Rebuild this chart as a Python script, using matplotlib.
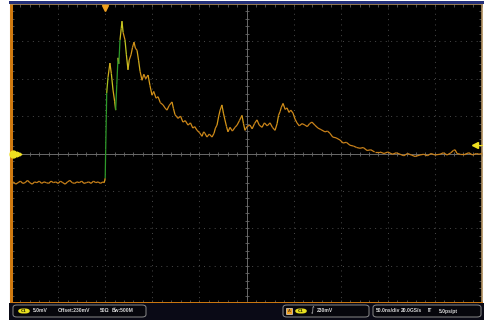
import matplotlib
matplotlib.use("Agg")
import matplotlib.pyplot as plt
import numpy as np
from matplotlib.collections import LineCollection
from matplotlib.colors import LinearSegmentedColormap
from matplotlib.patches import FancyBboxPatch, Rectangle
from matplotlib.transforms import blended_transform_factory

# Channel 1 capture, 50 ns/div, 5 mV/div
TIME_NS = [
    -100, -97.5, -95, -92.5, -90, -87.5, -85, -82.5, -80, -77.5,
    -75, -72.5, -70, -67.5, -65, -62.5, -60, -57.5, -55, -52.5,
    -50, -47.5, -45, -42.5, -40, -37.5, -35, -32.5, -30, -27.5,
    -25, -22.5, -20, -17.5, -15, -12.5, -10, -7.5, -5, -2.5, -1,
    0, 0.5, 1.2, 1.6, 3, 5, 6.5, 8.3, 10, 11.1, 12.3, 13.6, 14.5, 15.7,
    17, 17.8, 19, 21, 22.5, 24.2, 25.5, 27.4, 29, 30.6, 32, 33.8, 35.5,
    37, 39.1, 41, 43, 45.5, 47.5, 49.7, 51.5, 54, 56.1, 58.5, 61.4, 63.5,
    65.6, 67.8, 70.9, 72.5, 74.1, 76, 77.3, 80, 82.5, 85, 87.9, 90.5, 93,
    95, 97.5, 100, 102.8, 104.5, 105.9, 108, 110.5, 113.4, 115.5, 117,
    118.7, 120.5, 122, 123.9, 125.5, 127.1, 128.8, 130.3, 132.5, 135,
    137.8, 140, 142.5, 145.2, 146.8, 148.4, 150.5, 153.7, 156, 158.5,
    161.1, 163.5, 166.5, 169, 172, 175, 177.5, 180.3, 182.5, 184, 185.6,
    187, 188.8, 191, 193, 195.1, 197, 199.4, 201.5, 203.6, 206, 209,
    212.1, 214.5, 217, 219.5, 222.5, 225.9, 229, 233.3, 236, 238.6,
    241.5, 245, 249.3, 252.5, 256, 259.9, 263.5, 267, 270.5, 274, 278,
    282, 286, 291.8, 296, 300, 305, 309, 313, 317, 321, 325, 329, 334.2,
    338, 342, 346, 350, 355.5, 359, 363, 367, 369.5, 371.4, 373.5, 377,
    382, 386, 390, 394, 397, 400,
]
VOLT_MV = [
    224.8, 225.0, 224.7, 224.9, 225.1, 224.8, 224.9, 225.2, 224.9, 224.7,
    225.0, 224.9, 225.1, 224.8, 225.0, 224.9, 224.8, 225.1, 224.9, 225.0,
    224.8, 225.1, 224.9, 224.7, 225.0, 225.2, 224.9, 224.8, 225.0, 224.9,
    225.1, 224.8, 224.9, 225.0, 224.8, 225.1, 224.9, 225.0, 224.8, 225.0, 224.9,
    225.5, 229.3, 234.0, 236.9, 239.0, 240.9, 239.5, 237.3, 235.8, 234.6,
    238.0, 241.6, 240.8, 244.0, 245.5, 246.5, 245.0, 244.0, 242.0, 240.0,
    241.3, 242.0, 243.0, 243.7, 242.9, 242.6, 241.2, 239.8, 238.6, 239.4,
    238.8, 239.3, 237.9, 236.6, 237.1, 236.2, 236.4, 235.6, 235.3, 234.9,
    234.6, 235.2, 235.7, 234.8, 234.0, 233.7, 233.5, 233.8, 233.0, 233.2,
    232.6, 232.9, 232.2, 232.4, 231.9, 231.6, 231.1, 231.7, 231.5, 231.0,
    231.4, 231.0, 231.5, 232.2, 232.6, 233.8, 234.6, 235.3, 234.2, 233.3,
    232.4, 231.7, 232.3, 231.8, 232.3, 232.6, 233.2, 233.9, 232.8, 231.9,
    232.4, 232.6, 232.1, 232.8, 233.3, 232.6, 232.3, 232.9, 232.5, 232.9,
    232.3, 231.9, 232.8, 233.9, 234.4, 235.0, 235.5, 234.7, 234.9, 234.3,
    234.6, 234.2, 233.4, 232.9, 232.5, 232.8, 232.6, 232.4, 232.8, 233.0,
    232.6, 232.2, 232.0, 231.7, 231.8, 231.5, 231.0, 230.9, 230.6, 230.2,
    230.3, 229.9, 229.8, 229.6, 229.5, 229.6, 229.2, 229.3, 229.0, 229.0,
    228.8, 229.0, 228.7, 228.9, 228.7, 228.5, 228.8, 228.6, 228.4, 228.6,
    228.7, 228.5, 228.8, 228.6, 228.7, 228.9, 228.6, 228.9, 229.2, 229.3,
    228.8, 228.7, 228.7, 228.9, 228.6, 228.8, 228.7, 228.8,
]

CENTER_MV = 228.8
MV_PER_DIV = 5.0
NS_PER_DIV = 50.0
TRIGGER_MV = 230.0

LEFT_BOX = ["5.0mV", "Offset:230mV", "50Ω", "B\u0305w:500M"]
TRIGGER_TEXT = "230mV"
TIMEBASE_TEXT = ["50.0ns/div", "20.0GS/s", "IT", "5.0ps/pt"]

W, H = 484, 320
GRID_GREY = "#6a6a6a"
TRACE_CMAP = LinearSegmentedColormap.from_list(
    "persist", ["#c8801a", "#d89a18", "#c8c820", "#74c020", "#2e9a2a"]
)
STATUS_FONT = dict(fontsize=3.6, color="#d8d8d8", va="center", zorder=4,
                   family=["Liberation Sans", "DejaVu Sans"], fontweight="bold")


def draw_graticule(ax):
    xmin, xmax = -2 * NS_PER_DIV, 8 * NS_PER_DIV
    ymin, ymax = CENTER_MV - 4 * MV_PER_DIV, CENTER_MV + 4 * MV_PER_DIV
    ax.set_xlim(xmin, xmax)
    ax.set_ylim(ymin, ymax)

    for t in np.arange(xmin + NS_PER_DIV, xmax, NS_PER_DIV):
        ax.axvline(t, color="#4a4a4a", lw=0.7, ls=(0, (1, 4.5)), zorder=1)
    for v in np.arange(ymin + MV_PER_DIV, ymax - 0.01, MV_PER_DIV):
        ax.axhline(v, color="#4a4a4a", lw=0.7, ls=(0, (1, 4.5)), zorder=1)

    # center crosshair with minor ticks
    tc = xmin + 5 * NS_PER_DIV
    ax.axvline(tc, color=GRID_GREY, lw=0.7, zorder=1)
    ax.axhline(CENTER_MV, color=GRID_GREY, lw=0.7, zorder=1)
    minor_t = np.arange(xmin, xmax + 0.1, NS_PER_DIV / 5)
    minor_v = np.arange(ymin, ymax + 0.01, MV_PER_DIV / 5)
    ax.plot(minor_t, np.full_like(minor_t, CENTER_MV), ls="none", marker="|",
            ms=3.5, mew=0.6, color=GRID_GREY, zorder=1)
    ax.plot(np.full_like(minor_v, tc), minor_v, ls="none", marker="_",
            ms=3.5, mew=0.6, color=GRID_GREY, zorder=1)

    ax.set_xticks(minor_t)
    ax.set_yticks(minor_v)
    ax.tick_params(which="both", direction="in", length=2.5, width=0.6,
                   color="#5a5a5a", top=True, right=True,
                   labelbottom=False, labelleft=False)

    ax.spines["left"].set_color("#d07a10")
    ax.spines["bottom"].set_color("#d07a10")
    ax.spines["left"].set_linewidth(2.2)
    ax.spines["bottom"].set_linewidth(1.4)
    ax.spines["top"].set_color("#b09060")
    ax.spines["right"].set_color("#b09060")
    ax.spines["top"].set_linewidth(1.2)
    ax.spines["right"].set_linewidth(1.2)


def draw_trace(ax):
    t = np.asarray(TIME_NS)
    v = np.asarray(VOLT_MV)
    pts = np.column_stack([t, v]).reshape(-1, 1, 2)
    segs = np.concatenate([pts[:-1], pts[1:]], axis=1)
    slope = np.abs(np.diff(v) / np.diff(t))
    lc = LineCollection(segs, cmap=TRACE_CMAP, norm=plt.Normalize(0.05, 2.5),
                        linewidths=0.9, zorder=3)
    lc.set_array(slope)
    ax.add_collection(lc)


def draw_markers(ax):
    top = blended_transform_factory(ax.transData, ax.transAxes)
    side = blended_transform_factory(ax.transAxes, ax.transData)
    ax.plot([0], [0.985], marker="v", ms=5, color="#f0a020", transform=top,
            clip_on=False, zorder=5)
    ax.plot([0.004], [CENTER_MV], marker="o", ms=5, color="#f0e020",
            transform=side, clip_on=False, zorder=5)
    ax.plot([0.016], [CENTER_MV], marker=">", ms=3.5, color="#f0e020",
            transform=side, clip_on=False, zorder=5)
    ax.plot([0.985, 1.0], [TRIGGER_MV, TRIGGER_MV], color="#f0e020", lw=0.8,
            transform=side, clip_on=False, zorder=5)
    ax.plot([0.985], [TRIGGER_MV], marker="<", ms=4, color="#f0e020",
            transform=side, clip_on=False, zorder=5)


def status_box(fig, x0, x1):
    box = FancyBboxPatch((x0 / W, 3 / H), (x1 - x0) / W, 12 / H,
                         boxstyle="round,pad=0,rounding_size=0.008",
                         transform=fig.transFigure, facecolor="#06060c",
                         edgecolor="#8a8a8a", lw=0.7, zorder=2)
    fig.patches.append(box)


def channel_pill(fig, x):
    pill = FancyBboxPatch((x / W, 6.5 / H), 12 / W, 5 / H,
                          boxstyle="round,pad=0,rounding_size=0.01",
                          transform=fig.transFigure, facecolor="#e8e020",
                          edgecolor="none", zorder=3)
    fig.patches.append(pill)
    fig.text((x + 6) / W, 9 / H, "C1", fontsize=3, color="#303000",
             ha="center", va="center", fontweight="bold", zorder=4)


def draw_status_bar(fig):
    fig.patches.append(Rectangle((9 / W, 0), 475 / W, 17 / H,
                                 transform=fig.transFigure,
                                 facecolor="#0a0a16", edgecolor="none", zorder=1))

    status_box(fig, 13, 146)
    channel_pill(fig, 18)
    for x, s in zip([33, 58, 100, 112], LEFT_BOX):
        fig.text(x / W, 9 / H, s, **STATUS_FONT)

    status_box(fig, 283, 369)
    fig.patches.append(Rectangle((286 / W, 6 / H), 6 / W, 6 / H,
                                 transform=fig.transFigure, facecolor="#f0a020",
                                 edgecolor="#ffffff", lw=0.4, zorder=3))
    fig.text(289 / W, 9 / H, "A", fontsize=3, color="#202020", ha="center",
             va="center", zorder=4)
    channel_pill(fig, 295)
    fig.text(311 / W, 9.5 / H, "\u222b", fontsize=5, color="#e0e0e0",
             va="center", zorder=4)
    fig.text(317 / W, 9 / H, TRIGGER_TEXT, **STATUS_FONT)

    status_box(fig, 373, 481)
    for x, s in zip([376, 401, 428, 439], TIMEBASE_TEXT):
        fig.text(x / W, 9 / H, s, **STATUS_FONT)


def main():
    fig = plt.figure(figsize=(4.84, 3.2), dpi=100, facecolor="white")
    fig.patches.append(Rectangle((9 / W, 316 / H), 475 / W, 3 / H,
                                 transform=fig.transFigure,
                                 facecolor="#24307a", edgecolor="none"))
    ax = fig.add_axes([11 / W, 17 / H, 471 / W, 299 / H], facecolor="black")
    draw_graticule(ax)
    draw_trace(ax)
    draw_markers(ax)
    draw_status_bar(fig)
    fig.savefig("out.png", dpi=100, facecolor=fig.get_facecolor())
    plt.close(fig)


if __name__ == "__main__":
    main()
